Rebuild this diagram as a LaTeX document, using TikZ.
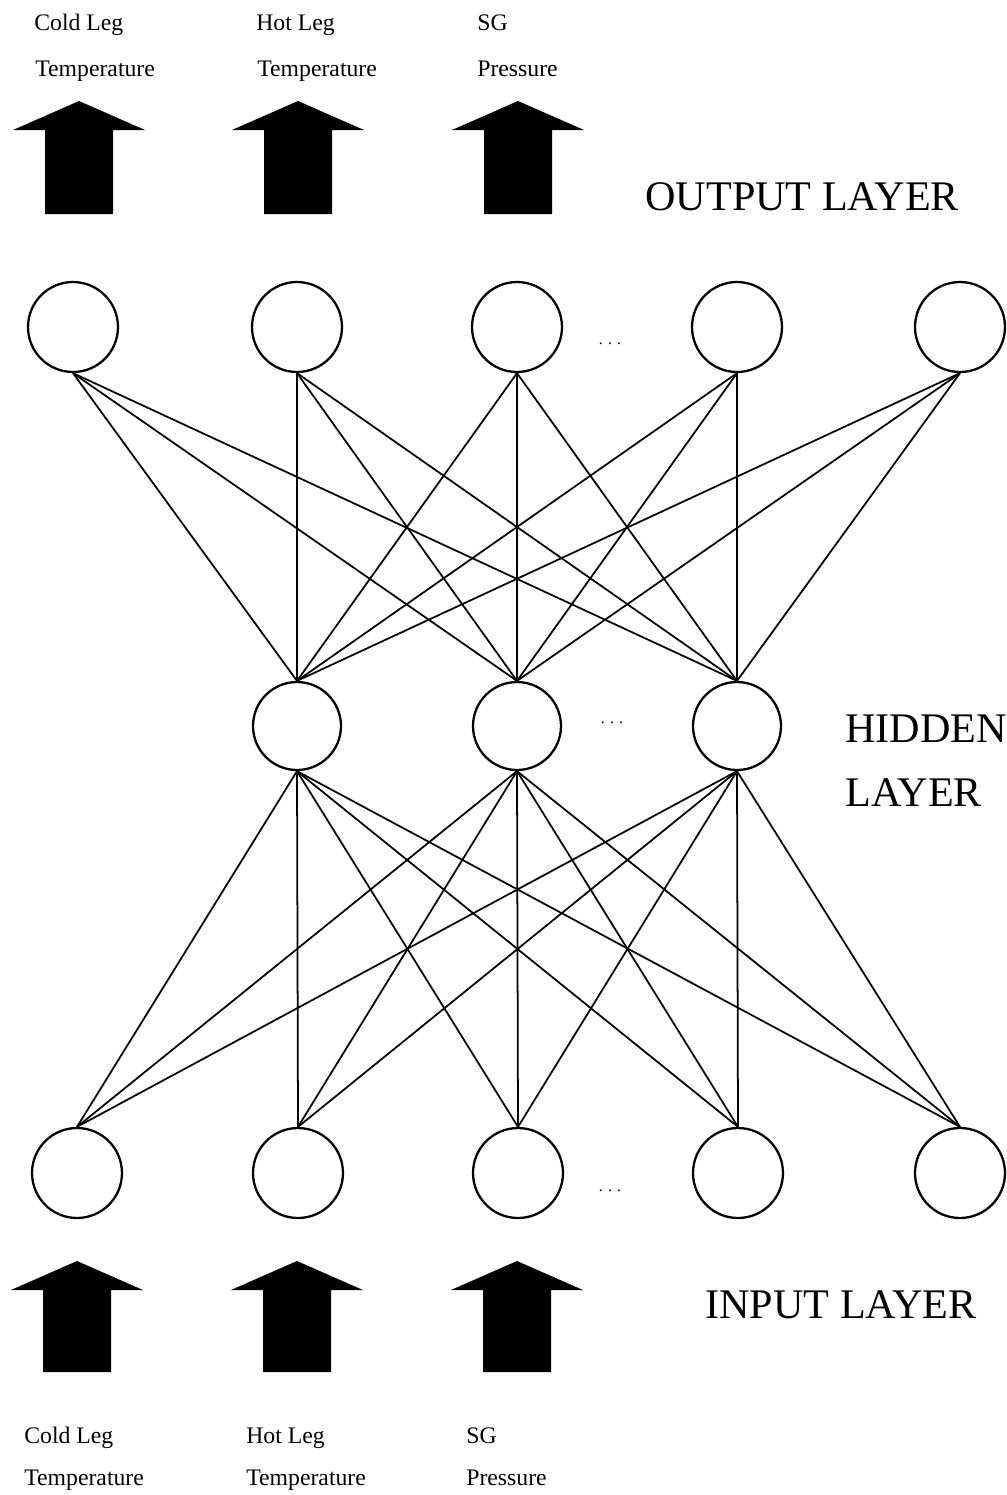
\documentclass[tikz,border=0pt]{standalone}
\usepackage{fontspec}
\setmainfont{Liberation Serif}
\usetikzlibrary{positioning}
\tikzset{
  unit/.style={draw, circle, minimum size=1.8cm, inner sep=0pt, line width=1.3pt},
  link/.style={line width=1pt},
  flowarrow/.style={fill=black},
  varlabel/.style={font=\fontsize{13.5}{14}\selectfont, anchor=base west, inner sep=0pt},
  layerlabel/.style={font=\fontsize{24}{26}\selectfont, anchor=base west, inner sep=0pt},
  gap/.style={font=\small, inner sep=0pt}
}

\begin{document}
\begin{tikzpicture}[x=0.02cm,y=-0.02cm]
  \useasboundingbox (0,0) rectangle (1007,1495);

  % output variables
  \node[varlabel] (out1a) at (34,30) {Cold Leg};
  \node[varlabel] (out1b) at (35,76) {Temperature};
  \node[varlabel] (out2a) at (256,30) {Hot Leg};
  \node[varlabel] (out2b) at (257,76) {Temperature};
  \node[varlabel] (out3a) at (477,30) {SG};
  \node[varlabel] (out3b) at (477,76) {Pressure};
  \foreach \x in {79,298,518} {
    \fill[flowarrow] (\x,101) -- (\x+66,130) -- (\x+34,130) -- (\x+34,214)
      -- (\x-34,214) -- (\x-34,130) -- (\x-66,130) -- cycle;
  }
  \node[layerlabel] (outlayer) at (645,210) {OUTPUT LAYER};

  % output layer
  \foreach \n/\x in {1/73,2/297,3/517,4/737,5/960} {
    \node[unit] (o\n) at (\x,327) {};
  }
  \node[gap] (odots) at (610,344) {. . .};

  % hidden layer
  \foreach \n/\x in {1/297,2/517,3/737} {
    \node[unit, minimum size=1.76cm] (h\n) at (\x,726) {};
  }
  \node[gap] (hdots) at (612,723) {. . .};
  \node[layerlabel] (hidlayer) at (845,742) {HIDDEN};
  \node[layerlabel] (hidlayer2) at (845,806) {LAYER};

  % input layer
  \foreach \n/\x in {1/77,2/298,3/518,4/738,5/960} {
    \node[unit] (i\n) at (\x,1173) {};
  }
  \node[gap] (idots) at (610,1191) {. . .};

  % weights
  \foreach \o in {1,...,5} {
    \foreach \h in {1,2,3} {
      \draw[link] (o\o.south) -- (h\h.north);
    }
  }
  \foreach \i in {1,...,5} {
    \foreach \h in {1,2,3} {
      \draw[link] (h\h.south) -- (i\i.north);
    }
  }

  % input variables
  \foreach \x in {77,297,517} {
    \fill[flowarrow] (\x,1261) -- (\x+66,1290) -- (\x+34,1290) -- (\x+34,1372)
      -- (\x-34,1372) -- (\x-34,1290) -- (\x-66,1290) -- cycle;
  }
  \node[layerlabel] (inlayer) at (705,1318) {INPUT LAYER};
  \node[varlabel] (in1a) at (24,1443) {Cold Leg};
  \node[varlabel] (in1b) at (24,1485) {Temperature};
  \node[varlabel] (in2a) at (246,1443) {Hot Leg};
  \node[varlabel] (in2b) at (246,1485) {Temperature};
  \node[varlabel] (in3a) at (466,1443) {SG};
  \node[varlabel] (in3b) at (466,1485) {Pressure};
\end{tikzpicture}
\end{document}
